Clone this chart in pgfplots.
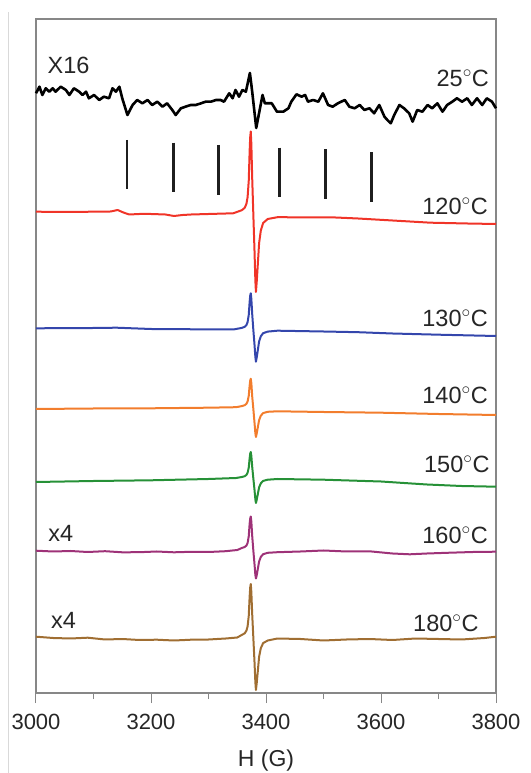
\documentclass[border=0pt]{standalone}
\usepackage{fontspec}
\setmainfont{Liberation Sans}
\usepackage{pgfplots}
\pgfplotsset{compat=1.18}
\definecolor{cred}{RGB}{240,52,40}
\definecolor{cblue}{RGB}{52,70,172}
\definecolor{corange}{RGB}{242,125,45}
\definecolor{cgreen}{RGB}{38,145,55}
\definecolor{cpurple}{RGB}{158,50,120}
\definecolor{cbrown}{RGB}{160,110,50}
\definecolor{frame}{RGB}{135,135,135}
\newcommand{\dg}{$^{\circ}$C}
\begin{document}
\begin{tikzpicture}
\begin{axis}[
  scale only axis, width=460pt, height=674pt,
  xmin=3000, xmax=3800, ymin=0, ymax=674,
  axis line style={frame, line width=1pt},
  ytick=\empty,
  xtick={3000,3200,3400,3600,3800},
  minor xtick={3100,3300,3500,3700},
  tick align=outside, xtick pos=bottom,
  major tick length=10pt, minor tick length=6pt,
  every tick/.style={frame, line width=1pt},
  /pgf/number format/1000 sep={},
  /pgf/number format/assume math mode=true,
  xticklabel style={font=\fontsize{22}{24}\selectfont, text=black!85, yshift=-11pt},
  xlabel={H (G)},
  xlabel style={font=\fontsize{23}{25}\selectfont, text=black!85, yshift=-20pt},
  clip=false,
  every axis plot/.append style={line join=round},
  nodes={font=\fontsize{23.5}{26}\selectfont, text=black!85, inner sep=0pt},
]
\draw[frame, line width=1.1pt] (rel axis cs:0,0) rectangle (rel axis cs:1,1);
% 25 C (x16)
\addplot[black, line width=2.6pt] coordinates {
(3000,599.7)(3006,606.3)(3011,598)(3017,604.7)(3023,601.3)(3029,604.7)(3034,601.3)(3043,606.3)(3052,603)(3058,598)
(3066,604.7)(3075,601.3)(3081,598)(3087,601.3)(3092,594.7)(3101,598)(3110,593)(3118,596.3)(3127,594.7)(3133,604.7)
(3139,601.3)(3145,606.3)(3150,594.7)(3159,578)(3168,588)(3176,593)(3185,589.7)(3194,593)(3202,588)(3211,591.3)
(3220,586.3)(3228,589.7)(3237,583)(3243,578)(3252,584.7)(3260,586.3)(3269,588)(3278,588)(3287,589.7)(3295,591.3)
(3304,591.3)(3313,593)(3321,593)(3327,591.3)(3336,599.7)(3342,594.7)(3347,603)(3353,596.3)(3359,603)(3365,601.3)
(3372,620)(3376,601.3)(3383,565)(3388,580)(3394,598)(3398,589.7)(3410,589.7)(3419,581.3)(3430,581.3)(3439,584.7)
(3444,591.3)(3453,598.7)(3462,596.3)(3468,598)(3473,591.3)(3482,593)(3491,591.3)(3499,599.7)(3508,588)(3516,586.3)
(3525,589.7)(3537,593)(3545,586.3)(3554,584.7)(3563,588)(3571,583)(3580,584.7)(3588,579.7)(3597,588)(3606,576.3)
(3611,573)(3617,569.7)(3623,578)(3632,588)(3640,584.7)(3649,579.7)(3655,571.3)(3663,583)(3672,581.3)(3681,588)
(3689,584.7)(3698,589.7)(3707,581.3)(3715,588)(3724,591.3)(3732,594.7)(3741,591.3)(3750,594.7)(3758,588)(3767,594.7)
(3776,588)(3784,594.7)(3793,591.3)(3800,584.7)};
% marker lines
\addplot[black!88, line width=2.6pt] coordinates {(3158,553)(3158,504)};
\addplot[black!88, line width=2.6pt] coordinates {(3239,550.3)(3239,500.7)};
\addplot[black!88, line width=2.6pt] coordinates {(3317,548)(3317,498)};
\addplot[black!88, line width=2.6pt] coordinates {(3423,545.3)(3423,496.3)};
\addplot[black!88, line width=2.6pt] coordinates {(3503,543.7)(3503,493.7)};
\addplot[black!88, line width=2.6pt] coordinates {(3583,540.7)(3583,491.3)};
% 120 C
\addplot[cred, line width=2pt] coordinates {
(3000,481.3)(3050,481)(3100,481.3)(3130,481.5)(3142,483)(3152,480.5)(3162,478.5)(3180,479)(3200,479)(3225,478.5)(3240,477)(3255,478)(3270,478.5)(3300,479)(3343,479.7)
(3358,482.8)(3363,485.2)(3366,489.3)(3368,495.9)(3370,512.3)(3371.5,541)(3372.5,555.8)(3373.5,561.5)(3374.5,549.2)
(3376,514.9)(3378,478)(3380,442.3)(3381.5,412.3)(3382.5,401)(3384,412.3)(3386,431)(3388,449.8)(3391,462.5)(3395,470)
(3403,474)(3420,475.8)(3450,475.7)(3513,475.7)(3560,474.5)(3605,473)(3650,471.5)(3686,470.3)(3750,469.5)(3800,469)};
% 130 C
\addplot[cblue, line width=2pt] coordinates {
(3000,364.7)(3100,365)(3140,365.3)(3200,364)(3280,363.7)(3345,363.7)
(3358,365.1)(3363,366.2)(3366,368)(3368,370.9)(3370,378.1)(3371.5,390.7)(3372.5,397.2)(3373.5,399.7)(3374.5,394.3)
(3376,379)(3378,363)(3380,348.4)(3381.5,336)(3382.5,331.3)(3384,336)(3386,343.7)(3388,351.5)(3391,356.7)(3395,359.8)
(3403,361.4)(3420,362.3)(3500,361.5)(3560,360.8)(3620,359.5)(3700,358.3)(3800,357)};
% 140 C
\addplot[corange, line width=2pt] coordinates {
(3000,284)(3100,284.5)(3200,284.7)(3300,285.3)(3348,285.8)
(3358,286.9)(3363,287.8)(3366,289.2)(3368,291.5)(3370,297.2)(3371.5,307.2)(3372.5,312.3)(3373.5,314.3)(3374.5,310)
(3376,296.7)(3378,284)(3380,270.3)(3381.5,259.9)(3382.5,256)(3384,259.9)(3386,266.4)(3388,272.9)(3391,277.3)(3395,279.9)
(3403,281.2)(3420,281.7)(3500,281)(3600,280.3)(3700,279)(3800,278)};
% 150 C
\addplot[cgreen, line width=2pt] coordinates {
(3000,211)(3100,212)(3200,212.7)(3300,214)(3348,215)
(3358,216)(3363,216.8)(3366,218.1)(3368,220.2)(3370,225.4)(3371.5,234.5)(3372.5,239.2)(3373.5,241)(3374.5,237.1)
(3376,226.2)(3378,214.5)(3380,203.2)(3381.5,193.6)(3382.5,190)(3384,193.6)(3386,199.6)(3388,205.6)(3391,209.7)(3395,212.1)
(3403,213.3)(3420,214)(3500,213.3)(3600,211.5)(3680,208.5)(3740,207)(3800,206.3)};
% 160 C (x4)
\addplot[cpurple, line width=2pt] coordinates {
(3000,142.3)(3030,141.5)(3060,142)(3090,141)(3120,141.8)(3150,140.7)(3180,140.8)(3210,141.5)(3240,140.7)(3270,141.2)
(3300,141)(3330,141.8)(3350,143)
(3358,145)(3363,146)(3366,147.5)(3368,150)(3370,156.7)(3371.5,169)(3372.5,174.2)(3373.5,176.5)(3374.5,171.6)
(3376,157.1)(3378,142.3)(3380,128.9)(3381.5,118.1)(3382.5,114.5)(3384,118.1)(3386,124.8)(3388,131.5)(3391,136.1)(3395,138.8)
(3403,140.2)(3420,140.8)(3460,141.5)(3500,142.5)(3540,141.5)(3580,141.7)(3620,139.5)(3650,138.7)(3680,139.5)(3720,140.3)
(3760,141)(3800,141.3)};
% 180 C (x4)
\addplot[cbrown, line width=2pt] coordinates {
(3000,56.3)(3030,55)(3060,54.5)(3090,55.3)(3120,53.5)(3150,54)(3180,53)(3210,53.3)(3240,52.5)(3270,53.3)
(3300,53.5)(3330,54.5)(3350,55.5)
(3358,58.1)(3363,59.7)(3366,62.4)(3368,66.6)(3370,77.2)(3371.5,95.8)(3372.5,105.3)(3373.5,109)(3374.5,101)
(3376,78.8)(3378,55)(3380,31)(3381.5,10.7)(3382.5,3)(3384,10.7)(3386,23.4)(3388,36.2)(3391,44.8)(3395,49.9)
(3403,52.5)(3420,54.5)(3460,54)(3500,52.5)(3540,53.5)(3580,54)(3620,53)(3660,54.5)(3700,54)(3740,53.5)
(3780,55)(3800,56.3)};
% labels
\node[anchor=base west] at (axis cs:3020,619) {X16};
\node[anchor=base west] at (axis cs:3021,151.3) {x4};
\node[anchor=base west] at (axis cs:3026,64.7) {x4};
\node[anchor=base east] at (axis cs:3788,606) {25\dg};
\node[anchor=base east] at (axis cs:3786,478) {120\dg};
\node[anchor=base east] at (axis cs:3786,366.3) {130\dg};
\node[anchor=base east] at (axis cs:3786,289) {140\dg};
\node[anchor=base east] at (axis cs:3789,220.3) {150\dg};
\node[anchor=base east] at (axis cs:3786,149.7) {160\dg};
\node[anchor=base east] at (axis cs:3770,61.3) {180\dg};
\end{axis}
\draw[black!15, line width=1pt] (-28pt,-80pt) -- (-28pt,681pt);
\pgfresetboundingbox
\useasboundingbox (-36pt,-80pt) rectangle (494pt,693pt);
\end{tikzpicture}
\end{document}
